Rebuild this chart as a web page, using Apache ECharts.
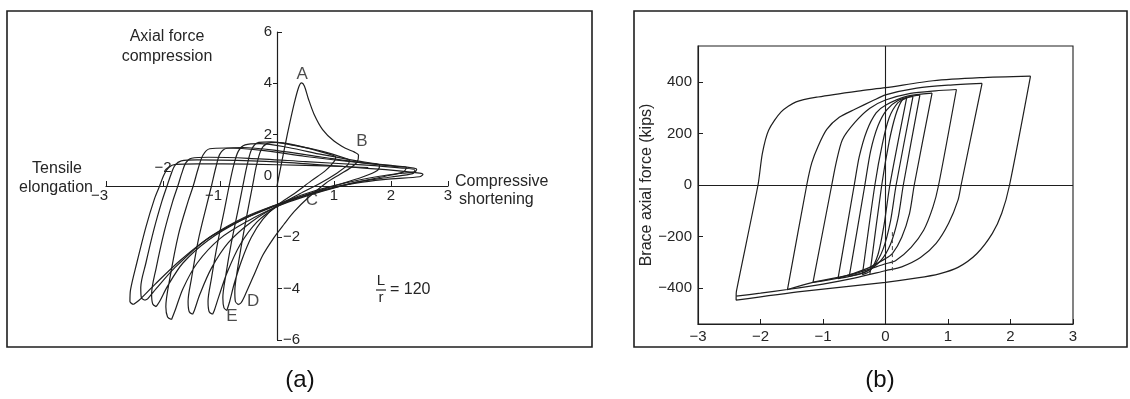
<!DOCTYPE html>
<html><head><meta charset="utf-8">
<script src="https://cdn.jsdelivr.net/npm/echarts@6/dist/echarts.min.js"></script>
<style>html,body{margin:0;padding:0;background:#fff}#c{width:1130px;height:399px}</style>
</head><body><div id="c"></div>
<script>
// ================= Panel (a): axial force vs. elongation/shortening =================
const aXLabelsBelow = [-3, -1, 1, 2, 3];
const aXLabelsAbove = [-2];
const aXTicks = [-3, -2, -1, 1, 2, 3];
const aYLabelsLeft = [0, 2, 4, 6];
const aYTicksLeft = [2, 4];
const aYLabelsRight = [-6, -4, -2];
const aYTicksRight = [-6, -4, -2, 6];

const aCycle0 = [[0,0],[0.08,0.9],[0.18,2.0],[0.3,3.2],[0.38,3.85],[0.43,4.02],[0.48,3.9],[0.55,3.4],[0.65,2.8],[0.8,2.2],[1.0,1.75],[1.2,1.47],[1.36,1.32],[1.43,1.2],
  [1.41,0.95],[1.3,0.72],[1.1,0.45],[0.85,0.1],[0.55,-0.45],[0.3,-1.0],[0.12,-1.5],[-0.05,-2.0],[-0.25,-2.7],[-0.42,-3.55],[-0.55,-4.2],[-0.63,-4.55],[-0.68,-4.62]];
const aCycle1 = [[-0.68,-4.62],[-0.73,-4.5],[-0.74,-4.1],[-0.69,-3.2],[-0.6,-2.0],[-0.5,-0.8],[-0.43,0],[-0.36,0.8],[-0.28,1.4],[-0.18,1.65],[0,1.7],[0.3,1.6],[0.7,1.38],[1.0,1.18],[1.03,1.12],
  [1.0,0.95],[0.85,0.6],[0.6,0.2],[0.3,-0.3],[0,-0.75],[-0.25,-1.3],[-0.45,-2.0],[-0.62,-2.9],[-0.75,-3.8],[-0.83,-4.5],[-0.88,-4.85]];
const aCycle2 = [[-0.88,-4.85],[-0.93,-4.75],[-0.95,-4.35],[-0.9,-3.5],[-0.8,-2.2],[-0.68,-0.9],[-0.6,0],[-0.52,0.85],[-0.44,1.45],[-0.32,1.7],[-0.1,1.72],[0.3,1.58],[0.8,1.35],[1.2,1.08],[1.27,1.0],
  [1.24,0.82],[1.05,0.5],[0.75,0.1],[0.4,-0.3],[0,-0.8],[-0.35,-1.4],[-0.65,-2.3],[-0.88,-3.4],[-1.02,-4.3],[-1.1,-4.85],[-1.13,-5.0]];
const aCycle3 = [[-1.13,-5.0],[-1.19,-4.9],[-1.21,-4.5],[-1.15,-3.6],[-1.04,-2.2],[-0.92,-0.9],[-0.84,0],[-0.76,0.8],[-0.68,1.35],[-0.56,1.6],[-0.3,1.65],[0.2,1.5],[0.8,1.22],[1.4,0.98],[1.75,0.86],[1.8,0.82],
  [1.76,0.6],[1.5,0.35],[1.0,0.0],[0.5,-0.35],[0,-0.8],[-0.45,-1.4],[-0.85,-2.2],[-1.15,-3.2],[-1.35,-4.2],[-1.45,-4.85],[-1.48,-5.0]];
const aCycle4 = [[-1.48,-5.0],[-1.54,-4.9],[-1.56,-4.5],[-1.5,-3.6],[-1.38,-2.1],[-1.24,-0.8],[-1.15,0],[-1.07,0.75],[-1.0,1.25],[-0.88,1.47],[-0.6,1.5],[0,1.38],[0.8,1.12],[1.5,0.9],[2.1,0.76],[2.27,0.72],
  [2.22,0.55],[1.9,0.38],[1.4,0.15],[0.8,-0.2],[0.3,-0.55],[0,-0.8],[-0.5,-1.35],[-1.0,-2.05],[-1.4,-3.0],[-1.65,-4.0],[-1.78,-4.8],[-1.85,-5.2]];
const aCycle5 = [[-1.85,-5.2],[-1.92,-5.1],[-1.95,-4.7],[-1.88,-3.6],[-1.73,-1.9],[-1.56,-0.6],[-1.47,0],[-1.38,0.7],[-1.3,1.2],[-1.18,1.45],[-0.9,1.48],[-0.3,1.4],[0.5,1.15],[1.3,0.95],[2.0,0.8],[2.4,0.7],[2.45,0.66],
  [2.42,0.55],[2.2,0.5],[1.8,0.38],[1.2,0.12],[0.5,-0.3],[0,-0.72],[-0.6,-1.3],[-1.2,-2.1],[-1.65,-3.0],[-1.92,-3.9],[-2.06,-4.5],[-2.12,-4.7]];
const aCycle6 = [[-2.12,-4.7],[-2.18,-4.6],[-2.2,-4.2],[-2.12,-3.2],[-1.98,-1.8],[-1.83,-0.6],[-1.74,0],[-1.67,0.5],[-1.6,0.9],[-1.5,1.08],[-1.2,1.12],[-0.5,1.08],[0.5,0.95],[1.5,0.82],[2.2,0.7],[2.42,0.62],
  [2.38,0.48],[2.0,0.35],[1.4,0.15],[0.8,-0.18],[0.3,-0.5],[0,-0.75],[-0.6,-1.3],[-1.25,-2.1],[-1.8,-3.2],[-2.12,-4.0],[-2.27,-4.4],[-2.32,-4.45]];
const aCycle7 = [[-2.32,-4.45],[-2.38,-4.35],[-2.39,-3.95],[-2.3,-3.0],[-2.16,-1.7],[-2.02,-0.6],[-1.93,0],[-1.86,0.45],[-1.79,0.8],[-1.68,0.98],[-1.4,1.02],[-0.7,1.0],[0.3,0.9],[1.2,0.75],[2.0,0.62],[2.5,0.5],[2.56,0.45],
  [2.5,0.36],[2.0,0.28],[1.5,0.15],[1.0,-0.05],[0.5,-0.35],[0,-0.72],[-0.55,-1.2],[-1.15,-1.95],[-1.7,-2.9],[-2.15,-3.85],[-2.42,-4.45],[-2.52,-4.62]];
const aCycle8 = [[-2.52,-4.62],[-2.58,-4.5],[-2.57,-4.05],[-2.46,-3.0],[-2.3,-1.6],[-2.15,-0.5],[-2.06,0],[-1.98,0.45],[-1.9,0.72],[-1.78,0.84],[-1.4,0.86],[-0.5,0.85],[0.5,0.8],[1.2,0.76],[1.6,0.72]];
const aCycles = [aCycle0, aCycle1, aCycle2, aCycle3, aCycle4, aCycle5, aCycle6, aCycle7, aCycle8];

const aLetterNames = ['A', 'B', 'C', 'D', 'E'];
const aLetterAnchors = [[0.44, 4.36], [1.49, 1.75], [0.61, -0.54], [-0.42, -4.51], [-0.79, -5.06]];

// ================= Panel (b): brace axial force (kips) =================
const bXTicks = [-3, -2, -1, 0, 1, 2, 3];
const bYTicks = [-400, -200, 0, 200, 400];

const bLoop7Up   = [[-0.25,-345],[-0.06,0],[0.06,170],[0.16,270],[0.26,328],[0.34,340]];
const bLoop7Down = [[0.34,340],[0.07,0],[-0.02,-150],[-0.12,-270],[-0.25,-335],[-0.37,-348]];
const bLoop6Up   = [[-0.37,-348],[-0.17,0],[-0.05,160],[0.06,262],[0.2,320],[0.34,338],[0.44,344]];
const bLoop6Down = [[0.44,344],[0.17,0],[0.08,-140],[-0.04,-250],[-0.2,-318],[-0.37,-343],[-0.58,-355]];
const bLoop5Up   = [[-0.58,-355],[-0.33,0],[-0.24,130],[-0.12,230],[0.02,292],[0.2,328],[0.4,344],[0.55,349]];
const bLoop5Down = [[0.55,349],[0.285,0],[0.2,-130],[0.08,-230],[-0.08,-295],[-0.3,-335],[-0.58,-355],[-0.76,-364]];
const bLoop4Up   = [[-0.76,-364],[-0.5,0],[-0.42,110],[-0.3,210],[-0.15,280],[0,310],[0.35,345],[0.745,357]];
const bLoop4Down = [[0.745,357],[0.46,0],[0.385,-110],[0.26,-203],[0.11,-267],[0,-286],[-0.3,-325],[-0.76,-362],[-1.16,-378]];
const bLoop3Up   = [[-1.16,-378],[-0.86,0],[-0.79,86],[-0.69,176],[-0.49,243],[-0.25,298],[0,330],[0.4,356],[0.8,366],[1.135,371]];
const bLoop3Down = [[1.135,371],[0.85,0],[0.76,-85],[0.61,-176],[0.41,-242],[0.16,-294],[0,-306],[-0.5,-345],[-1.16,-378],[-1.57,-406]];
const bLoop2Up   = [[-1.57,-408],[-1.26,0],[-1.18,86],[-1.08,150],[-0.94,216],[-0.74,263],[-0.49,294],[-0.2,328],[0,350],[0.5,376],[1.0,388],[1.545,395]];
const bLoop2Down = [[1.545,395],[1.21,0],[1.16,-59],[1.01,-149],[0.81,-227],[0.56,-282],[0.26,-318],[0,-333],[-0.5,-362],[-1.0,-385],[-1.57,-406],[-2.0,-420],[-2.39,-432]];
const bLoop1Up   = [[-2.39,-432],[-2.385,-412],[-2.04,0],[-1.97,123],[-1.87,213],[-1.67,284],[-1.43,323],[-1.08,342],[-0.44,365],[0,378],[0.76,405],[1.51,417],[2.32,423]];
const bLoop1Down = [[2.32,423],[1.985,0],[1.86,-110],[1.71,-188],[1.46,-267],[1.16,-320],[0.86,-345],[0.51,-361],[0,-378],[-1.33,-413],[-2.39,-447],[-2.39,-432]];
const bBranches = [bLoop7Up, bLoop7Down, bLoop6Up, bLoop6Down, bLoop5Up, bLoop5Down, bLoop4Up, bLoop4Down,
                   bLoop3Up, bLoop3Down, bLoop2Up, bLoop2Down, bLoop1Up, bLoop1Down];
const bDashed = [[0.11,-183],[0.11,-333]];

// ================= Chart =================
const FONT = 'Liberation Sans, Arial, Helvetica, sans-serif';
const INK = '#1e1e1e';
const TXT = '#262626';
const minus = v => (v < 0 ? '\u2212' + Math.abs(v) : String(v));

const chart = echarts.init(document.getElementById('c'), null, { renderer: 'canvas' });

const lineSeries = (data, xi, yi, extra) => Object.assign({
  type: 'line', data: data, xAxisIndex: xi, yAxisIndex: yi,
  showSymbol: false, symbol: 'none', smooth: 0.3, silent: true, animation: false,
  lineStyle: { color: '#1f1f1f', width: 1.2 }
}, extra || {});

const series = [];
aCycles.forEach(c => series.push(lineSeries(c, 0, 0)));
bBranches.forEach(c => series.push(lineSeries(c, 1, 1, { smooth: 0.25 })));
series.push(lineSeries(bDashed, 1, 1, { smooth: false, lineStyle: { color: '#444', width: 1, type: [4, 3] } }));
series.push({
  type: 'line', data: [], xAxisIndex: 1, yAxisIndex: 1, silent: true, animation: false,
  markLine: { symbol: 'none', silent: true, animation: false, label: { show: false },
    lineStyle: { color: INK, width: 1.1, type: 'solid' },
    data: [{ xAxis: 0 }, { yAxis: 0 }] }
});
series.push({
  type: 'scatter', xAxisIndex: 0, yAxisIndex: 0, symbolSize: 0, silent: true, animation: false,
  data: aLetterAnchors.map((p, i) => ({ value: p, name: aLetterNames[i] })),
  label: { show: true, position: 'inside', formatter: '{b}', fontFamily: FONT, fontSize: 17, color: INK }
});

const labelBase = { fontFamily: FONT, fontSize: 15, color: TXT };
const dummyX = (g) => ({ gridIndex: g, type: 'value', min: -3, max: 3, show: false });
const dummyY = (g) => ({ gridIndex: g, type: 'value', min: -6, max: 6, show: false });

// Panel (a) geometry: x -3..3 over px 106..448 (0 at 277), y 6..-6 over px 32..340 (0 at 186)
const option = {
  backgroundColor: '#fff',
  animation: false,
  grid: [
    { left: 106, top: 32, width: 342, height: 308, show: false },
    { left: 698, top: 46, width: 375, height: 278, show: true, borderColor: INK, borderWidth: 1.1 },
    { left: 106, top: 32, width: 342, height: 154, show: false },
    { left: 106, top: 186, width: 342, height: 154, show: false },
    { left: 277, top: 32, width: 171, height: 308, show: false },
    { left: 106, top: 32, width: 171, height: 308, show: false }
  ],
  xAxis: [
    dummyX(0),
    { gridIndex: 1, type: 'value', min: -3, max: 3, interval: 1, position: 'bottom',
      axisLine: { show: true, onZero: false, lineStyle: { color: INK, width: 1.1 } },
      axisTick: { show: true, inside: true, length: 5, customValues: bXTicks, lineStyle: { color: INK } },
      axisLabel: Object.assign({ customValues: bXTicks, margin: 5, formatter: minus }, labelBase),
      splitLine: { show: false } },
    { gridIndex: 2, type: 'value', min: -3, max: 3, position: 'bottom',
      axisLine: { show: true, onZero: false, lineStyle: { color: INK, width: 1.2 } },
      axisTick: { show: true, inside: true, length: 5, customValues: aXTicks, lineStyle: { color: INK } },
      axisLabel: Object.assign({ customValues: aXLabelsBelow, margin: 2,
        formatter: v => (v < 0 ? '{n|' + minus(v) + '}' : '{p|' + v + '}'),
        rich: { n: Object.assign({ padding: [0, 13, 0, 0] }, labelBase), p: Object.assign({}, labelBase) } }, labelBase),
      splitLine: { show: false } },
    { gridIndex: 3, type: 'value', min: -3, max: 3, position: 'top',
      axisLine: { show: false, onZero: false },
      axisTick: { show: false },
      axisLabel: Object.assign({ customValues: aXLabelsAbove, margin: 11, formatter: minus }, labelBase),
      splitLine: { show: false } },
    dummyX(4),
    dummyX(5)
  ],
  yAxis: [
    dummyY(0),
    { gridIndex: 1, type: 'value', min: -540, max: 540, position: 'left',
      name: 'Brace axial force (kips)', nameLocation: 'middle', nameGap: 38, nameRotate: 90,
      nameTextStyle: { fontFamily: FONT, fontSize: 16, color: TXT },
      axisLine: { show: true, onZero: false, lineStyle: { color: INK, width: 1.1 } },
      axisTick: { show: true, inside: true, length: 5, customValues: bYTicks, lineStyle: { color: INK } },
      axisLabel: Object.assign({ customValues: bYTicks, margin: 6, formatter: minus }, labelBase),
      splitLine: { show: false } },
    dummyY(2),
    dummyY(3),
    { gridIndex: 4, type: 'value', min: -6, max: 6, position: 'left',
      axisLine: { show: true, onZero: false, lineStyle: { color: INK, width: 1.2 } },
      axisTick: { show: true, inside: false, length: 4, customValues: aYTicksLeft, lineStyle: { color: INK } },
      axisLabel: Object.assign({ customValues: aYLabelsLeft, margin: 5,
        formatter: v => (v === 0 ? '{z|0}' : '{p|' + v + '}'),
        rich: { z: Object.assign({ padding: [0, 0, 20, 0] }, labelBase), p: Object.assign({}, labelBase) } }, labelBase),
      splitLine: { show: false } },
    { gridIndex: 5, type: 'value', min: -6, max: 6, position: 'right',
      axisLine: { show: false, onZero: false },
      axisTick: { show: true, inside: false, length: 5, customValues: aYTicksRight, lineStyle: { color: INK } },
      axisLabel: Object.assign({ customValues: aYLabelsRight, margin: 6, formatter: minus }, labelBase),
      splitLine: { show: false } }
  ],
  graphic: [
    { type: 'rect', shape: { x: 7, y: 11, width: 585, height: 336 }, style: { fill: 'none', stroke: INK, lineWidth: 1.6 }, silent: true },
    { type: 'rect', shape: { x: 634, y: 11, width: 493, height: 336 }, style: { fill: 'none', stroke: INK, lineWidth: 1.6 }, silent: true },
    { type: 'text', x: 167, y: 37, style: { text: 'Axial force', font: '16px ' + FONT, fill: TXT, align: 'center', verticalAlign: 'middle' } },
    { type: 'text', x: 167, y: 57, style: { text: 'compression', font: '16px ' + FONT, fill: TXT, align: 'center', verticalAlign: 'middle' } },
    { type: 'text', x: 57, y: 169, style: { text: 'Tensile', font: '16px ' + FONT, fill: TXT, align: 'center', verticalAlign: 'middle' } },
    { type: 'text', x: 56, y: 188, style: { text: 'elongation', font: '16px ' + FONT, fill: TXT, align: 'center', verticalAlign: 'middle' } },
    { type: 'text', x: 455, y: 182, style: { text: 'Compressive', font: '16px ' + FONT, fill: TXT, align: 'left', verticalAlign: 'middle' } },
    { type: 'text', x: 459, y: 200, style: { text: 'shortening', font: '16px ' + FONT, fill: TXT, align: 'left', verticalAlign: 'middle' } },
    { type: 'text', x: 381, y: 281, style: { text: 'L', font: '15px ' + FONT, fill: TXT, align: 'center', verticalAlign: 'middle' } },
    { type: 'line', shape: { x1: 376, y1: 290, x2: 386, y2: 290 }, style: { stroke: TXT, lineWidth: 1.2 } },
    { type: 'text', x: 381, y: 298, style: { text: 'r', font: '15px ' + FONT, fill: TXT, align: 'center', verticalAlign: 'middle' } },
    { type: 'text', x: 390, y: 290, style: { text: '= 120', font: '16px ' + FONT, fill: TXT, align: 'left', verticalAlign: 'middle' } },
    { type: 'text', x: 300, y: 380, style: { text: '(a)', font: '24px ' + FONT, fill: '#111', align: 'center', verticalAlign: 'middle' } },
    { type: 'text', x: 880, y: 380, style: { text: '(b)', font: '24px ' + FONT, fill: '#111', align: 'center', verticalAlign: 'middle' } }
  ],
  series: series
};

chart.setOption(option);
</script>
</body></html>
